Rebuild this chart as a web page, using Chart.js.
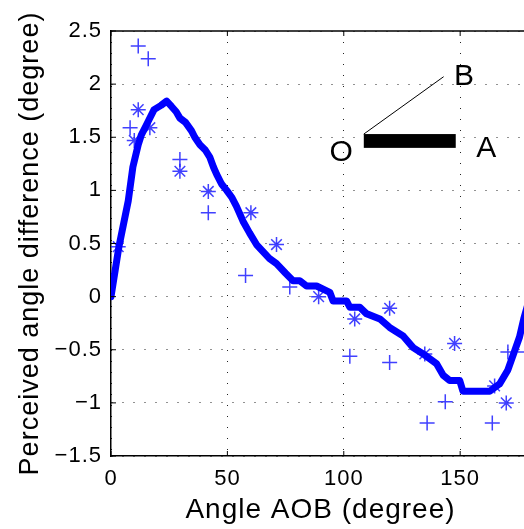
<!DOCTYPE html>
<html>
<head>
<meta charset="utf-8">
<script src="https://cdn.jsdelivr.net/npm/chart.js@4.4.0/dist/chart.umd.min.js"></script>
<style>
  html, body { margin: 0; padding: 0; background: #fff; overflow: hidden; }
  canvas { display: block; }
</style>
</head>
<body>
<canvas id="angleChart" width="540" height="529"></canvas>
<script>
// fitted curve (thick line)
const curveX = [0, 3.4, 7.4, 9.4, 11.7, 13, 15.3, 18.5, 21.5, 23.9, 26, 28, 29.6, 32, 34.6, 36, 38.2, 40.5, 42.5, 44, 45.4,
  47.5, 49.7, 52, 53.9, 56.7, 59.5, 62.5, 65, 68, 71.1, 75, 78.2, 81.1, 84, 88.3, 94, 95.4, 101.2, 102.6, 106.9, 109.7,
  115.5, 119.7, 125.5, 129.8, 134.8, 139.8, 142.7, 145.5, 149.8, 151.2, 162.7, 167, 170.5, 173.4, 175.5, 177.3, 180];
const curveY = [0, 0.47, 0.9, 1.22, 1.43, 1.52, 1.62, 1.76, 1.8, 1.84, 1.79, 1.74, 1.68, 1.64, 1.56, 1.5, 1.43, 1.38, 1.31, 1.22, 1.15,
  1.06, 1.0, 0.93, 0.85, 0.71, 0.6, 0.49, 0.43, 0.36, 0.31, 0.22, 0.15, 0.15, 0.1, 0.1, 0.04, -0.04, -0.04, -0.1, -0.1, -0.16,
  -0.21, -0.29, -0.37, -0.48, -0.55, -0.63, -0.74, -0.79, -0.79, -0.89, -0.89, -0.82, -0.69, -0.51, -0.38, -0.21, 0.0];

// '+' measurements
const plusX = [11.7, 16.0, 8.2, 29.6, 41.8, 57.8, 76.8, 102.6, 119.7, 135.8, 143.6, 163.8, 170.5, 178];
const plusY = [2.36, 2.24, 1.59, 1.29, 0.79, 0.2, 0.09, -0.56, -0.62, -1.19, -0.99, -1.19, -0.52, -0.52];

// '*' measurements
const starX = [3.1, 10.0, 11.7, 16.7, 29.6, 41.8, 60.1, 71.1, 89.2, 104.7, 119.7, 134.8, 147.6, 164.8, 169.8];
const starY = [0.47, 1.47, 1.76, 1.59, 1.18, 0.99, 0.79, 0.49, 0.0, -0.21, -0.11, -0.54, -0.44, -0.84, -1.0];

const xTicks = [0, 50, 100, 150];
const yTicks = [-1.5, -1, -0.5, 0, 0.5, 1, 1.5, 2, 2.5];

// little sketch of angle AOB, in data units
const barX = [108.6, 148.1];
const barY = [1.40, 1.53];
const armX = [108.6, 142.9];
const armY = [1.53, 2.07];
const insetLabels = ['O', 'A', 'B'];
const insetLabelX = [99.1, 161.4, 151.9];
const insetLabelY = [1.35, 1.39, 2.07];

const FONT = "'Liberation Sans', Arial, Helvetica, sans-serif";
const BLUE = '#0000ff';
const MARK = 'rgba(30, 30, 255, 0.85)';

const toPoints = (xs, ys) => xs.map((x, i) => ({ x: x, y: ys[i] }));

const spacing = {
  id: 'spacing',
  beforeUpdate(chart) { chart.ctx.letterSpacing = '1px'; },
  beforeDraw(chart) { chart.ctx.letterSpacing = '1px'; }
};

const frame = {
  id: 'frame',
  afterDraw(chart) {
    const { ctx, chartArea: a, scales: { x, y } } = chart;
    ctx.save();
    ctx.strokeStyle = '#000';
    ctx.lineWidth = 1.5;
    ctx.beginPath();
    ctx.moveTo(a.left, a.top);
    ctx.lineTo(a.right, a.top);
    ctx.stroke();
    // matlab style inner tick marks
    ctx.lineWidth = 1;
    ctx.beginPath();
    xTicks.forEach(v => {
      const px = x.getPixelForValue(v);
      ctx.moveTo(px, a.bottom); ctx.lineTo(px, a.bottom - 5);
      ctx.moveTo(px, a.top); ctx.lineTo(px, a.top + 5);
    });
    yTicks.forEach(v => {
      const py = y.getPixelForValue(v);
      ctx.moveTo(a.left, py); ctx.lineTo(a.left + 5, py);
    });
    ctx.stroke();

    // inset sketch
    const bx0 = x.getPixelForValue(barX[0]), bx1 = x.getPixelForValue(barX[1]);
    const by0 = y.getPixelForValue(barY[1]), by1 = y.getPixelForValue(barY[0]);
    ctx.fillStyle = '#000';
    ctx.fillRect(bx0, by0, bx1 - bx0, by1 - by0);
    ctx.beginPath();
    ctx.moveTo(x.getPixelForValue(armX[0]), y.getPixelForValue(armY[0]));
    ctx.lineTo(x.getPixelForValue(armX[1]), y.getPixelForValue(armY[1]));
    ctx.stroke();
    ctx.font = '30px ' + FONT;
    ctx.textAlign = 'center';
    ctx.textBaseline = 'middle';
    insetLabels.forEach((t, i) => {
      ctx.fillText(t, x.getPixelForValue(insetLabelX[i]), y.getPixelForValue(insetLabelY[i]));
    });
    ctx.restore();
  }
};

const minus = v => String(v).replace('-', '\u2212');

new Chart(document.getElementById('angleChart'), {
  type: 'scatter',
  data: {
    datasets: [
      {
        data: toPoints(curveX, curveY),
        showLine: true,
        borderColor: BLUE,
        borderWidth: 7,
        borderJoinStyle: 'round',
        borderCapStyle: 'round',
        pointRadius: 0,
        tension: 0,
        fill: false
      },
      {
        data: toPoints(plusX, plusY),
        pointStyle: 'cross',
        pointRadius: 7.5,
        borderColor: MARK,
        backgroundColor: MARK,
        borderWidth: 1.5
      },
      {
        data: toPoints(starX, starY),
        pointStyle: 'star',
        pointRadius: 7.5,
        borderColor: MARK,
        backgroundColor: MARK,
        borderWidth: 1.5
      }
    ]
  },
  options: {
    responsive: false,
    animation: false,
    layout: { padding: { top: 31, right: 10, left: 0, bottom: 0 } },
    plugins: {
      legend: { display: false },
      tooltip: { enabled: false }
    },
    scales: {
      x: {
        type: 'linear',
        min: 0,
        max: 180,
        afterBuildTicks: s => { s.ticks = xTicks.map(v => ({ value: v })); },
        afterFit: s => { s.height = 73; },
        border: { display: true, color: '#000', width: 1.5, dash: [1, 10] },
        grid: { color: '#222', lineWidth: 1, drawTicks: false },
        ticks: { color: '#000', padding: 10, font: { family: FONT, size: 22 }, maxRotation: 0 },
        title: {
          display: true,
          text: 'Angle AOB (degree)',
          color: '#000',
          font: { family: FONT, size: 28 },
          padding: { top: 0, bottom: 2 }
        }
      },
      y: {
        type: 'linear',
        min: -1.5,
        max: 2.5,
        afterBuildTicks: s => { s.ticks = yTicks.map(v => ({ value: v })); },
        afterFit: s => { s.width = 111; },
        border: { display: true, color: '#000', width: 1.5, dash: [1, 10] },
        grid: { color: '#222', lineWidth: 1, drawTicks: false },
        ticks: { color: '#000', padding: 9, font: { family: FONT, size: 22 }, callback: minus },
        title: {
          display: true,
          text: 'Perceived angle difference (degree)',
          color: '#000',
          font: { family: FONT, size: 27 },
          padding: { top: 14, bottom: 0 }
        }
      }
    }
  },
  plugins: [spacing, frame]
});
</script>
</body>
</html>
